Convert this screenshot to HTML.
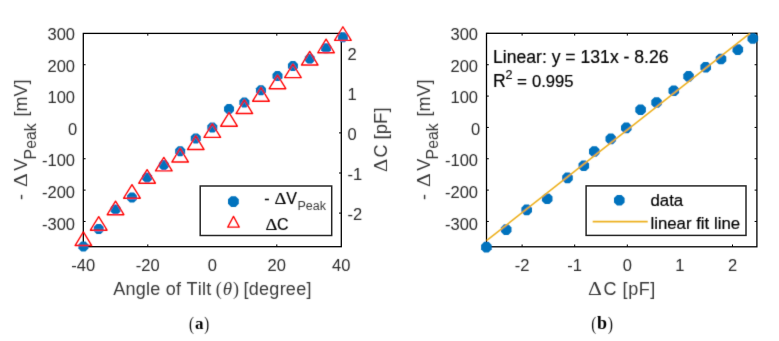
<!DOCTYPE html>
<html><head><meta charset="utf-8"><style>
html,body{margin:0;padding:0;background:#fff;width:779px;height:341px;overflow:hidden}
svg{display:block;will-change:transform}
text{font-kerning:none}
.k{fill:#000;stroke:#000;stroke-width:0.2px}
.t{fill:#2a2a2a}
.l{fill:#383838}
</style></head><body>
<svg width="779" height="341" viewBox="0 0 779 341" font-family='"Liberation Sans", sans-serif' fill="#262626">
<defs><filter id="sm" x="0" y="0" width="779" height="341" filterUnits="userSpaceOnUse"><feConvolveMatrix order="3" kernelMatrix="0.0113 0.0838 0.0113 0.0838 0.6193 0.0838 0.0113 0.0838 0.0113" preserveAlpha="false"/></filter></defs>
<rect width="779" height="341" fill="#fff"/>
<g>
<rect x="83.3" y="33.4" width="258.00" height="213.30" fill="none" stroke="#000" stroke-width="1.3"/>
<line x1="147.80" y1="246.70" x2="147.80" y2="244.40" stroke="#000" stroke-width="1"/>
<line x1="147.80" y1="33.40" x2="147.80" y2="35.70" stroke="#000" stroke-width="1"/>
<line x1="276.80" y1="246.70" x2="276.80" y2="244.40" stroke="#000" stroke-width="1"/>
<line x1="276.80" y1="33.40" x2="276.80" y2="35.70" stroke="#000" stroke-width="1"/>
<line x1="83.30" y1="64.74" x2="85.60" y2="64.74" stroke="#000" stroke-width="1"/>
<line x1="83.30" y1="158.76" x2="85.60" y2="158.76" stroke="#000" stroke-width="1"/>
<line x1="83.30" y1="190.10" x2="85.60" y2="190.10" stroke="#000" stroke-width="1"/>
<line x1="83.30" y1="221.44" x2="85.60" y2="221.44" stroke="#000" stroke-width="1"/>
<line x1="341.30" y1="132.90" x2="339.00" y2="132.90" stroke="#000" stroke-width="1"/>
<line x1="341.30" y1="173.00" x2="339.00" y2="173.00" stroke="#000" stroke-width="1"/>
<line x1="341.30" y1="213.10" x2="339.00" y2="213.10" stroke="#000" stroke-width="1"/>
<rect x="486.5" y="33.3" width="270.40" height="213.50" fill="none" stroke="#000" stroke-width="1.3"/>
<line x1="522.10" y1="246.80" x2="522.10" y2="244.50" stroke="#000" stroke-width="1"/>
<line x1="522.10" y1="33.30" x2="522.10" y2="35.60" stroke="#000" stroke-width="1"/>
<line x1="574.70" y1="246.80" x2="574.70" y2="244.50" stroke="#000" stroke-width="1"/>
<line x1="574.70" y1="33.30" x2="574.70" y2="35.60" stroke="#000" stroke-width="1"/>
<line x1="627.30" y1="246.80" x2="627.30" y2="244.50" stroke="#000" stroke-width="1"/>
<line x1="627.30" y1="33.30" x2="627.30" y2="35.60" stroke="#000" stroke-width="1"/>
<line x1="732.50" y1="246.80" x2="732.50" y2="244.50" stroke="#000" stroke-width="1"/>
<line x1="732.50" y1="33.30" x2="732.50" y2="35.60" stroke="#000" stroke-width="1"/>
<line x1="486.50" y1="33.40" x2="488.80" y2="33.40" stroke="#000" stroke-width="1"/>
<line x1="756.90" y1="33.40" x2="754.60" y2="33.40" stroke="#000" stroke-width="1"/>
<line x1="486.50" y1="64.74" x2="488.80" y2="64.74" stroke="#000" stroke-width="1"/>
<line x1="756.90" y1="64.74" x2="754.60" y2="64.74" stroke="#000" stroke-width="1"/>
<line x1="486.50" y1="96.08" x2="488.80" y2="96.08" stroke="#000" stroke-width="1"/>
<line x1="756.90" y1="96.08" x2="754.60" y2="96.08" stroke="#000" stroke-width="1"/>
<line x1="486.50" y1="127.42" x2="488.80" y2="127.42" stroke="#000" stroke-width="1"/>
<line x1="756.90" y1="127.42" x2="754.60" y2="127.42" stroke="#000" stroke-width="1"/>
<line x1="486.50" y1="158.76" x2="488.80" y2="158.76" stroke="#000" stroke-width="1"/>
<line x1="756.90" y1="158.76" x2="754.60" y2="158.76" stroke="#000" stroke-width="1"/>
<line x1="486.50" y1="190.10" x2="488.80" y2="190.10" stroke="#000" stroke-width="1"/>
<line x1="756.90" y1="190.10" x2="754.60" y2="190.10" stroke="#000" stroke-width="1"/>
<line x1="486.50" y1="221.44" x2="488.80" y2="221.44" stroke="#000" stroke-width="1"/>
<line x1="756.90" y1="221.44" x2="754.60" y2="221.44" stroke="#000" stroke-width="1"/>
</g>
<g filter="url(#sm)">
<polygon points="88.40,248.57 85.47,251.50 81.33,251.50 78.40,248.57 78.40,244.43 81.33,241.50 85.47,241.50 88.40,244.43" fill="#0072BD"/>
<polygon points="103.72,230.97 100.80,233.90 96.65,233.90 93.72,230.97 93.72,226.83 96.65,223.90 100.80,223.90 103.72,226.83" fill="#0072BD"/>
<polygon points="120.55,211.47 117.62,214.40 113.48,214.40 110.55,211.47 110.55,207.33 113.48,204.40 117.62,204.40 120.55,207.33" fill="#0072BD"/>
<polygon points="136.98,199.57 134.05,202.50 129.90,202.50 126.98,199.57 126.98,195.43 129.90,192.50 134.05,192.50 136.98,195.43" fill="#0072BD"/>
<polygon points="152.10,179.57 149.17,182.50 145.03,182.50 142.10,179.57 142.10,175.43 145.03,172.50 149.17,172.50 152.10,175.43" fill="#0072BD"/>
<polygon points="168.83,167.07 165.90,170.00 161.75,170.00 158.83,167.07 158.83,162.93 161.75,160.00 165.90,160.00 168.83,162.93" fill="#0072BD"/>
<polygon points="185.15,153.27 182.22,156.20 178.08,156.20 175.15,153.27 175.15,149.13 178.08,146.20 182.22,146.20 185.15,149.13" fill="#0072BD"/>
<polygon points="200.78,140.47 197.85,143.40 193.70,143.40 190.78,140.47 190.78,136.33 193.70,133.40 197.85,133.40 200.78,136.33" fill="#0072BD"/>
<polygon points="217.30,129.67 214.37,132.60 210.23,132.60 207.30,129.67 207.30,125.53 210.23,122.60 214.37,122.60 217.30,125.53" fill="#0072BD"/>
<polygon points="234.03,111.07 231.10,114.00 226.95,114.00 224.03,111.07 224.03,106.93 226.95,104.00 231.10,104.00 234.03,106.93" fill="#0072BD"/>
<polygon points="249.35,104.57 246.42,107.50 242.28,107.50 239.35,104.57 239.35,100.43 242.28,97.50 246.42,97.50 249.35,100.43" fill="#0072BD"/>
<polygon points="265.98,92.27 263.05,95.20 258.90,95.20 255.98,92.27 255.98,88.13 258.90,85.20 263.05,85.20 265.98,88.13" fill="#0072BD"/>
<polygon points="282.50,78.17 279.57,81.10 275.43,81.10 272.50,78.17 272.50,74.03 275.43,71.10 279.57,71.10 282.50,74.03" fill="#0072BD"/>
<polygon points="297.93,68.17 295.00,71.10 290.85,71.10 287.93,68.17 287.93,64.03 290.85,61.10 295.00,61.10 297.93,64.03" fill="#0072BD"/>
<polygon points="314.75,60.87 311.82,63.80 307.68,63.80 304.75,60.87 304.75,56.73 307.68,53.80 311.82,53.80 314.75,56.73" fill="#0072BD"/>
<polygon points="331.07,50.27 328.15,53.20 324.00,53.20 321.07,50.27 321.07,46.13 324.00,43.20 328.15,43.20 331.07,46.13" fill="#0072BD"/>
<polygon points="347.90,39.27 344.97,42.20 340.83,42.20 337.90,39.27 337.90,35.13 340.83,32.20 344.97,32.20 347.90,35.13" fill="#0072BD"/>
<path d="M83.40,231.95 L91.72,245.53 L75.07,245.53 Z" fill="none" stroke="#FF0000" stroke-width="1.35" stroke-linejoin="round"/>
<path d="M98.72,216.65 L107.05,230.22 L90.40,230.22 Z" fill="none" stroke="#FF0000" stroke-width="1.35" stroke-linejoin="round"/>
<path d="M115.55,201.15 L123.88,214.72 L107.22,214.72 Z" fill="none" stroke="#FF0000" stroke-width="1.35" stroke-linejoin="round"/>
<path d="M131.98,184.65 L140.30,198.22 L123.65,198.22 Z" fill="none" stroke="#FF0000" stroke-width="1.35" stroke-linejoin="round"/>
<path d="M147.10,169.65 L155.43,183.22 L138.78,183.22 Z" fill="none" stroke="#FF0000" stroke-width="1.35" stroke-linejoin="round"/>
<path d="M163.83,157.35 L172.15,170.93 L155.50,170.93 Z" fill="none" stroke="#FF0000" stroke-width="1.35" stroke-linejoin="round"/>
<path d="M180.15,148.45 L188.47,162.03 L171.83,162.03 Z" fill="none" stroke="#FF0000" stroke-width="1.35" stroke-linejoin="round"/>
<path d="M195.78,135.95 L204.10,149.53 L187.45,149.53 Z" fill="none" stroke="#FF0000" stroke-width="1.35" stroke-linejoin="round"/>
<path d="M212.30,123.85 L220.62,137.43 L203.98,137.43 Z" fill="none" stroke="#FF0000" stroke-width="1.35" stroke-linejoin="round"/>
<path d="M229.03,112.64 L237.35,126.22 L220.70,126.22 Z" fill="none" stroke="#FF0000" stroke-width="1.35" stroke-linejoin="round"/>
<path d="M244.35,99.94 L252.68,113.53 L236.03,113.53 Z" fill="none" stroke="#FF0000" stroke-width="1.35" stroke-linejoin="round"/>
<path d="M260.98,87.64 L269.30,101.22 L252.65,101.22 Z" fill="none" stroke="#FF0000" stroke-width="1.35" stroke-linejoin="round"/>
<path d="M277.50,75.14 L285.82,88.72 L269.18,88.72 Z" fill="none" stroke="#FF0000" stroke-width="1.35" stroke-linejoin="round"/>
<path d="M292.93,64.04 L301.25,77.62 L284.60,77.62 Z" fill="none" stroke="#FF0000" stroke-width="1.35" stroke-linejoin="round"/>
<path d="M309.75,51.45 L318.07,65.03 L301.43,65.03 Z" fill="none" stroke="#FF0000" stroke-width="1.35" stroke-linejoin="round"/>
<path d="M326.07,39.15 L334.40,52.73 L317.75,52.73 Z" fill="none" stroke="#FF0000" stroke-width="1.35" stroke-linejoin="round"/>
<path d="M342.90,26.75 L351.23,40.33 L334.58,40.33 Z" fill="none" stroke="#FF0000" stroke-width="1.35" stroke-linejoin="round"/>
<polygon points="491.70,249.30 488.60,252.40 484.20,252.40 481.10,249.30 481.10,244.90 484.20,241.80 488.60,241.80 491.70,244.90" fill="#0072BD"/>
<polygon points="511.50,231.80 508.40,234.90 504.00,234.90 500.90,231.80 500.90,227.40 504.00,224.30 508.40,224.30 511.50,227.40" fill="#0072BD"/>
<polygon points="532.00,212.10 528.90,215.20 524.50,215.20 521.40,212.10 521.40,207.70 524.50,204.60 528.90,204.60 532.00,207.70" fill="#0072BD"/>
<polygon points="552.50,200.90 549.40,204.00 545.00,204.00 541.90,200.90 541.90,196.50 545.00,193.40 549.40,193.40 552.50,196.50" fill="#0072BD"/>
<polygon points="572.80,180.10 569.70,183.20 565.30,183.20 562.20,180.10 562.20,175.70 565.30,172.60 569.70,172.60 572.80,175.70" fill="#0072BD"/>
<polygon points="589.10,168.00 586.00,171.10 581.60,171.10 578.50,168.00 578.50,163.60 581.60,160.50 586.00,160.50 589.10,163.60" fill="#0072BD"/>
<polygon points="599.60,153.70 596.50,156.80 592.10,156.80 589.00,153.70 589.00,149.30 592.10,146.20 596.50,146.20 599.60,149.30" fill="#0072BD"/>
<polygon points="616.10,141.10 613.00,144.20 608.60,144.20 605.50,141.10 605.50,136.70 608.60,133.60 613.00,133.60 616.10,136.70" fill="#0072BD"/>
<polygon points="631.60,130.10 628.50,133.20 624.10,133.20 621.00,130.10 621.00,125.70 624.10,122.60 628.50,122.60 631.60,125.70" fill="#0072BD"/>
<polygon points="645.90,112.00 642.80,115.10 638.40,115.10 635.30,112.00 635.30,107.60 638.40,104.50 642.80,104.50 645.90,107.60" fill="#0072BD"/>
<polygon points="661.90,104.70 658.80,107.80 654.40,107.80 651.30,104.70 651.30,100.30 654.40,97.20 658.80,97.20 661.90,100.30" fill="#0072BD"/>
<polygon points="679.10,92.90 676.00,96.00 671.60,96.00 668.50,92.90 668.50,88.50 671.60,85.40 676.00,85.40 679.10,88.50" fill="#0072BD"/>
<polygon points="693.90,78.60 690.80,81.70 686.40,81.70 683.30,78.60 683.30,74.20 686.40,71.10 690.80,71.10 693.90,74.20" fill="#0072BD"/>
<polygon points="711.00,69.50 707.90,72.60 703.50,72.60 700.40,69.50 700.40,65.10 703.50,62.00 707.90,62.00 711.00,65.10" fill="#0072BD"/>
<polygon points="726.30,61.20 723.20,64.30 718.80,64.30 715.70,61.20 715.70,56.80 718.80,53.70 723.20,53.70 726.30,56.80" fill="#0072BD"/>
<polygon points="743.10,51.80 740.00,54.90 735.60,54.90 732.50,51.80 732.50,47.40 735.60,44.30 740.00,44.30 743.10,47.40" fill="#0072BD"/>
<polygon points="758.10,40.70 755.00,43.80 750.60,43.80 747.50,40.70 747.50,36.30 750.60,33.20 755.00,33.20 758.10,36.30" fill="#0072BD"/>
<line x1="486.5" y1="240.7" x2="749.9" y2="33.4" stroke="#EDB120" stroke-width="1.6"/>
</g>
<g>
<rect x="200.2" y="186.0" width="131.50" height="49.50" fill="#fff" stroke="#262626" stroke-width="1.5"/>
<rect x="586.1" y="185.9" width="159.90" height="49.50" fill="#fff" stroke="#262626" stroke-width="1.5"/>
</g>
<g filter="url(#sm)">
<text x="83.30" y="271.00" font-size="16.5" text-anchor="middle" class="t">-40</text>
<text x="147.80" y="271.00" font-size="16.5" text-anchor="middle" class="t">-20</text>
<text x="212.30" y="271.00" font-size="16.5" text-anchor="middle" class="t">0</text>
<text x="276.80" y="271.00" font-size="16.5" text-anchor="middle" class="t">20</text>
<text x="341.30" y="271.00" font-size="16.5" text-anchor="middle" class="t">40</text>
<text x="75.00" y="39.90" font-size="16.5" text-anchor="end" class="t">300</text>
<text x="75.00" y="71.53" font-size="16.5" text-anchor="end" class="t">200</text>
<text x="75.00" y="103.16" font-size="16.5" text-anchor="end" class="t">100</text>
<text x="77.30" y="134.79" font-size="16.5" text-anchor="end" class="t">0</text>
<text x="75.00" y="166.42" font-size="16.5" text-anchor="end" class="t">-100</text>
<text x="75.00" y="198.05" font-size="16.5" text-anchor="end" class="t">-200</text>
<text x="75.00" y="229.68" font-size="16.5" text-anchor="end" class="t">-300</text>
<text x="347.50" y="60.00" font-size="16.5" class="t">2</text>
<text x="347.50" y="100.10" font-size="16.5" class="t">1</text>
<text x="347.50" y="140.20" font-size="16.5" class="t">0</text>
<text x="347.50" y="180.30" font-size="16.5" class="t">-1</text>
<text x="347.50" y="220.40" font-size="16.5" class="t">-2</text>
<polygon points="238.80,203.84 235.64,207.00 231.16,207.00 228.00,203.84 228.00,199.36 231.16,196.20 235.64,196.20 238.80,199.36" fill="#0072BD"/>
<path d="M233.50,216.41 L239.25,227.15 L227.75,227.15 Z" fill="none" stroke="#FF0000" stroke-width="1.3" stroke-linejoin="round"/>
<text x="264.20" y="204.00" font-size="16" class="k">-</text>
<text transform="translate(274.60,204.00) scale(1.15,1)" font-size="16" font-family='"Liberation Serif", serif' class="k">&#916;</text>
<text x="286.20" y="204.00" font-size="16" class="k">V</text>
<text x="297.50" y="210.20" font-size="12.5" class="l">Peak</text>
<text transform="translate(265.40,230.00) scale(1.15,1)" font-size="16" font-family='"Liberation Serif", serif' class="k">&#916;</text>
<text x="277.00" y="230.00" font-size="16" class="k">C</text>
<text x="113.20" y="294.60" font-size="18" class="l" letter-spacing="0.25">Angle of Tilt</text>
<text x="215.80" y="294.60" font-size="18" font-family='"Liberation Serif", serif' class="l">(</text>
<text x="222.80" y="294.60" font-size="19" font-family='"Liberation Serif", serif' class="l" font-style="italic">&#952;</text>
<text x="233.00" y="294.60" font-size="18" font-family='"Liberation Serif", serif' class="l">)</text>
<text x="243.60" y="294.80" font-size="18" class="l" letter-spacing="0.25">[degree]</text>
<text transform="translate(27.20,200.00) rotate(-90)" font-size="18" class="l">-</text>
<text transform="translate(27.20,187.00) rotate(-90) scale(1.2,1)" font-size="18" font-family='"Liberation Serif", serif' class="l">&#916;</text>
<text transform="translate(27.20,170.80) rotate(-90)" font-size="18" class="l">V</text>
<text transform="translate(35.60,159.40) rotate(-90)" font-size="15.8" class="l">Peak</text>
<text transform="translate(27.20,116.60) rotate(-90)" font-size="18" class="l">[mV]</text>
<text transform="translate(387.00,172.00) rotate(-90) scale(1.15,1)" font-size="18" font-family='"Liberation Serif", serif' class="l">&#916;</text>
<text transform="translate(387.00,157.40) rotate(-90)" font-size="18" class="l">C</text>
<text transform="translate(387.00,139.40) rotate(-90)" font-size="18.6" class="l">[pF]</text>
<text x="522.10" y="271.00" font-size="16.5" text-anchor="middle" class="t">-2</text>
<text x="574.70" y="271.00" font-size="16.5" text-anchor="middle" class="t">-1</text>
<text x="627.30" y="271.00" font-size="16.5" text-anchor="middle" class="t">0</text>
<text x="679.90" y="271.00" font-size="16.5" text-anchor="middle" class="t">1</text>
<text x="732.50" y="271.00" font-size="16.5" text-anchor="middle" class="t">2</text>
<text x="478.00" y="39.90" font-size="16.5" text-anchor="end" class="t">300</text>
<text x="478.00" y="71.53" font-size="16.5" text-anchor="end" class="t">200</text>
<text x="478.00" y="103.16" font-size="16.5" text-anchor="end" class="t">100</text>
<text x="480.30" y="134.79" font-size="16.5" text-anchor="end" class="t">0</text>
<text x="478.00" y="166.42" font-size="16.5" text-anchor="end" class="t">-100</text>
<text x="478.00" y="198.05" font-size="16.5" text-anchor="end" class="t">-200</text>
<text x="478.00" y="229.68" font-size="16.5" text-anchor="end" class="t">-300</text>
<text x="493.00" y="62.80" font-size="17.6" class="k">Linear: y = 131x - 8.26</text>
<text x="493.00" y="86.80" font-size="17.6" class="k">R</text>
<text x="505.60" y="78.60" font-size="12.5" class="k">2</text>
<text x="517.00" y="86.80" font-size="17.0" class="k">=</text>
<text x="532.00" y="86.80" font-size="16.6" class="k">0.995</text>
<polygon points="624.60,202.50 621.50,205.60 617.10,205.60 614.00,202.50 614.00,198.10 617.10,195.00 621.50,195.00 624.60,198.10" fill="#0072BD"/>
<line x1="592.7" y1="221.6" x2="647.7" y2="221.6" stroke="#EDB120" stroke-width="1.6"/>
<text x="650.50" y="205.60" font-size="16.8" class="k">data</text>
<text x="650.50" y="229.20" font-size="16.8" class="k">linear fit line</text>
<text transform="translate(588.00,294.60) scale(1.2,1)" font-size="18" font-family='"Liberation Serif", serif' class="l">&#916;</text>
<text x="603.50" y="294.60" font-size="18" class="l" letter-spacing="0.55">C [pF]</text>
<text transform="translate(430.00,200.00) rotate(-90)" font-size="18" class="l">-</text>
<text transform="translate(430.00,187.00) rotate(-90) scale(1.2,1)" font-size="18" font-family='"Liberation Serif", serif' class="l">&#916;</text>
<text transform="translate(430.00,170.80) rotate(-90)" font-size="18" class="l">V</text>
<text transform="translate(438.40,159.40) rotate(-90)" font-size="15.8" class="l">Peak</text>
<text transform="translate(430.00,116.60) rotate(-90)" font-size="18" class="l">[mV]</text>
<text transform="translate(189.10,329.8) scale(0.8,1)" font-size="18.5" font-family='"Liberation Serif", serif' fill="#111">(</text>
<text x="199.20" y="328.90" font-size="17" text-anchor="middle" font-family='"Liberation Serif", serif' fill="#000" font-weight="bold">a</text>
<text transform="translate(204.30,329.8) scale(0.8,1)" font-size="18.5" font-family='"Liberation Serif", serif' fill="#111">)</text>
<text transform="translate(591.30,329.8) scale(0.8,1)" font-size="18.5" font-family='"Liberation Serif", serif' fill="#111">(</text>
<text x="601.90" y="328.90" font-size="18" text-anchor="middle" font-family='"Liberation Serif", serif' fill="#000" font-weight="bold">b</text>
<text transform="translate(608.10,329.8) scale(0.8,1)" font-size="18.5" font-family='"Liberation Serif", serif' fill="#111">)</text>
</g>
</svg>
</body></html>
